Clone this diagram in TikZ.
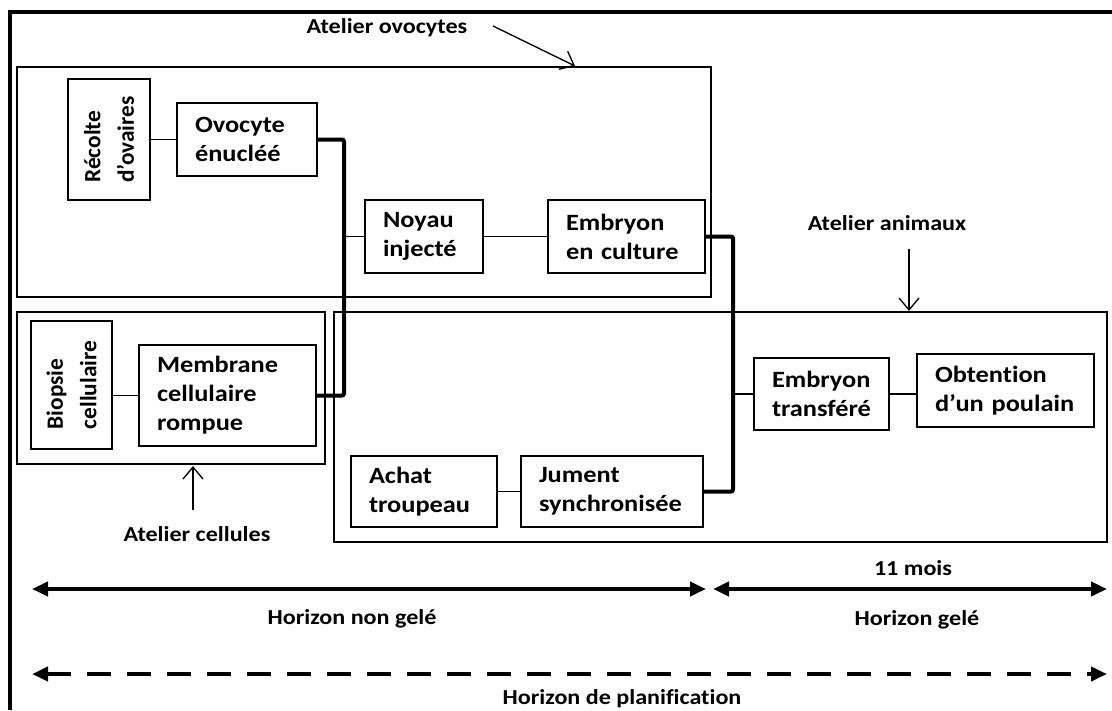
\documentclass[tikz,border=0pt]{standalone}
\usepackage{fontspec}
\setmainfont[Ligatures={TeX,NoCommon}]{Carlito}
\newfontfamily\largefont[FakeStretch=1.13,Ligatures={TeX,NoCommon}]{Carlito}
\usetikzlibrary{arrows.meta}
\hyphenpenalty=10000
\exhyphenpenalty=10000

\tikzset{
  boite/.style={draw, line width=1.2pt, align=left, inner xsep=13.5pt, inner ysep=0pt,
    font=\largefont\bfseries\fontsize{17.5}{21.75}\selectfont},
  boiterot/.style={draw, line width=1.2pt, rotate=90, align=left, inner sep=0pt,
    font=\bfseries\fontsize{17.5}{25}\selectfont},
  etiquette/.style={font=\largefont\bfseries\fontsize{16}{19}\selectfont},
  lien/.style={line width=1.2pt},
  bus/.style={line width=3pt, rounded corners=1.5pt},
  fleche/.style={line width=1pt, -{Straight Barb[length=9pt,width=15pt]}},
  horizon/.style={line width=3.5pt,
    {Triangle[length=12pt,width=10.5pt]}-{Triangle[length=12pt,width=10.5pt]}},
}

\begin{document}
\begin{tikzpicture}[x=0.75pt,y=-0.75pt]
  \useasboundingbox (0,0) rectangle (1112,710);
  \def\Ovo{(17,67) rectangle (711,297)}
  \def\Cel{(17,312) rectangle (325,464)}
  \def\Ani{(334,312) rectangle (1107,542)}

  \draw[line width=3pt] (10,710) -- (10,12) -- (1112,12); %A: Outer frame
  \draw[lien] \Ovo \Cel \Ani; %A: Workshops

  %A: Steps
  \node[boiterot, minimum width=90.75pt, minimum height=61.5pt] (recolte) at (109,139.5) {Récolte\\d’ovaires};
  \node[boite, text width=78pt, minimum height=54.75pt] (ovocyte) at (247,139.5) {Ovocyte\\énucléé};
  \node[boite, text width=61.5pt, minimum height=54.75pt] (noyau) at (424,236.5) {Noyau\\injecté};
  \node[boite, text width=90.75pt, minimum height=54.75pt] (culture) at (626.5,236.5) {Embryon\\en culture};
  \node[boiterot, minimum width=96pt, minimum height=60.75pt] (biopsie) at (71.5,385) {Biopsie\\cellulaire};
  \node[boite, text width=105.75pt, minimum height=75.75pt] (membrane) at (227.5,395.5) {Membrane\\cellulaire\\rompue};
  \node[boite, text width=82.5pt, minimum height=53.25pt] (achat) at (424,491.5) {Achat\\troupeau};
  \node[boite, text width=109.5pt, minimum height=53.25pt] (jument) at (612,491.5) {Jument\\synchronisée};
  \node[boite, text width=74.25pt, minimum height=54pt] (transfere) at (821.5,394) {Embryon\\transféré};
  \node[boite, text width=105.75pt, minimum height=54.75pt] (poulain) at (1005.5,390.5) {Obtention\\d’un poulain};

  %A: Links
  \coordinate (busA) at (344,0);
  \coordinate (busB) at (733,0);
  \draw[lien] (recolte) -- (ovocyte);
  \draw[lien] (membrane.west) -- (membrane.west -| biopsie.south);
  \draw[bus] (ovocyte.east) -| (busA |- membrane.east) -- (membrane.east);
  \draw[lien] (noyau.west) -- (noyau.west -| busA);
  \draw[lien] (noyau) -- (culture);
  \draw[bus] (culture.east) -| (busB |- jument.east) -- (jument.east);
  \draw[lien] (transfere.west) -- (transfere.west -| busB);
  \draw[lien] (transfere.east) -- (transfere.east -| poulain.west);
  \draw[lien] (achat) -- (jument);

  %A: Workshop labels
  \node[etiquette] (lblOvo) at (387,28) {Atelier ovocytes};
  \node[etiquette] (lblAni) at (887,223) {Atelier animaux};
  \node[etiquette] (lblCel) at (197,534) {Atelier cellules};
  \coordinate (flOvoA) at (493,26);
  \coordinate (flOvoB) at (575,66);
  \coordinate (flAniA) at (909,249);
  \coordinate (flAniB) at (909,311);
  \coordinate (flCelA) at (193,510);
  \coordinate (flCelB) at (193,466);
  \draw[fleche] (flOvoA) -- (flOvoB);
  \draw[fleche] (flAniA) -- (flAniB);
  \draw[fleche] (flCelA) -- (flCelB);

  %A: Horizons
  \coordinate (h0) at (32,589);
  \coordinate (h1) at (706,589);
  \coordinate (h2) at (713,589);
  \coordinate (h3) at (1107,589);
  \coordinate (p0) at (32,674);
  \coordinate (p1) at (1107,674);
  \draw[horizon] (h0) -- (h1);
  \draw[horizon] (h2) -- (h3);
  \draw[horizon, dash pattern=on 18pt off 12pt] (p0) -- (p1);
  \node[etiquette] (lblMois) at (913,568) {11 mois};
  \node[etiquette] (lblNonGele) at (352,619) {Horizon non gelé};
  \node[etiquette] (lblGele) at (917,620) {Horizon gelé};
  \node[etiquette] (lblPlan) at (622,699) {Horizon de planification};
\end{tikzpicture}
\end{document}
